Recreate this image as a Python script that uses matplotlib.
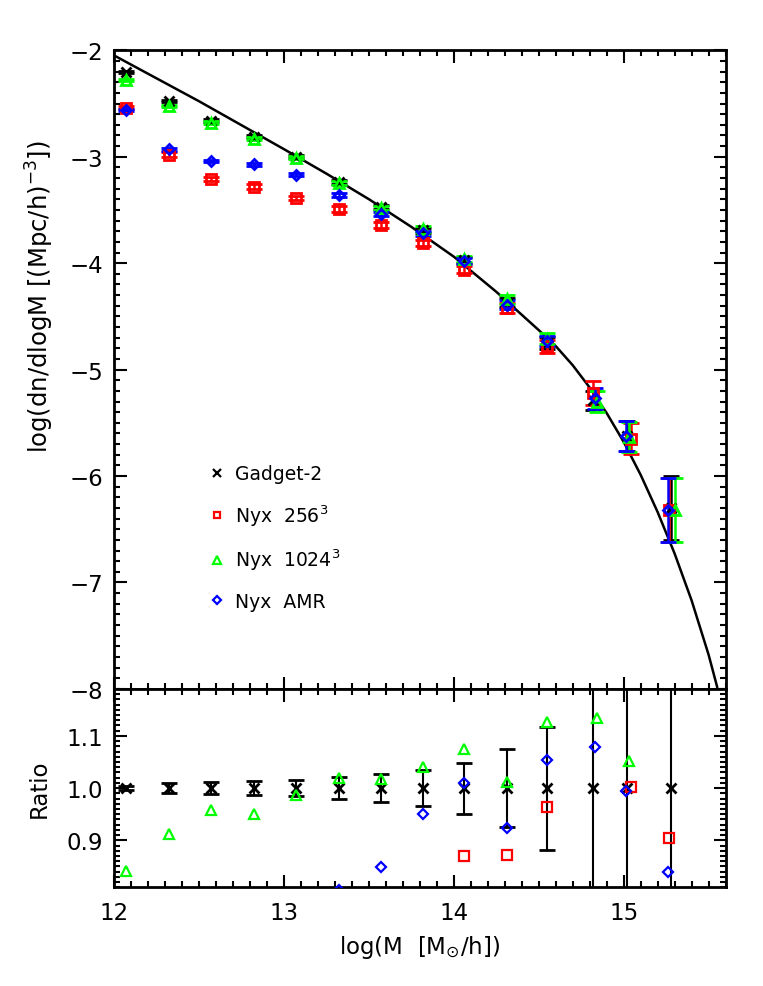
import numpy as np
import matplotlib
matplotlib.use('Agg')
import matplotlib.pyplot as plt
from matplotlib.ticker import MultipleLocator, FormatStrFormatter

plt.rcParams['font.family'] = ['DejaVu Sans']
plt.rcParams['mathtext.default'] = 'regular'

nan = np.nan

# mass bins (log M) per run
gadget_x = [12.07, 12.32, 12.57, 12.82, 13.07, 13.32, 13.57, 13.82, 14.06, 14.31, 14.55, 14.82, 15.02, 15.28]
nyx256_x = [12.07, 12.32, 12.57, 12.82, 13.07, 13.32, 13.57, 13.82, 14.06, 14.31, 14.55, 14.82, 15.04, 15.265]
nyx1024_x = [12.07, 12.32, 12.57, 12.82, 13.07, 13.32, 13.57, 13.82, 14.06, 14.31, 14.55, 14.84, 15.03, 15.30]
amr_x = [12.07, 12.32, 12.57, 12.82, 13.07, 13.32, 13.57, 13.82, 14.06, 14.31, 14.55, 14.83, 15.015, 15.26]

# log(dn/dlogM)
gadget_logn = [-2.20, -2.48, -2.66, -2.81, -3.00, -3.24, -3.47, -3.69, -3.97, -4.37, -4.75, -5.29, -5.62, -6.30]
nyx256_logn = [-2.54, -2.98, -3.21, -3.28, -3.39, -3.49, -3.64, -3.81, -4.06, -4.42, -4.78, -5.22, -5.65, -6.32]
nyx1024_logn = [-2.28, -2.52, -2.68, -2.83, -3.01, -3.25, -3.48, -3.68, -3.96, -4.34, -4.71, -5.30, -5.63, -6.32]
amr_logn = [-2.56, -2.93, -3.04, -3.07, -3.17, -3.36, -3.54, -3.72, -3.98, -4.39, -4.73, -5.27, -5.62, -6.32]

gadget_err = [0.01, 0.01, 0.012, 0.013, 0.015, 0.018, 0.02, 0.025, 0.03, 0.04, 0.06, 0.09, 0.14, 0.30]
nyx256_err = [0.015, 0.02, 0.02, 0.02, 0.02, 0.025, 0.025, 0.03, 0.035, 0.045, 0.06, 0.11, 0.145, 0.30]
nyx1024_err = [0.01, 0.01, 0.012, 0.013, 0.015, 0.018, 0.02, 0.025, 0.03, 0.04, 0.05, 0.10, 0.14, 0.30]
amr_err = [0.01, 0.012, 0.012, 0.015, 0.015, 0.02, 0.02, 0.025, 0.03, 0.04, 0.05, 0.10, 0.14, 0.30]

# ratio to Gadget-2
gadget_ratio = [1.0, 1.0, 1.0, 1.0, 1.0, 1.0, 1.0, 1.0, 1.0, 1.0, 1.0, 1.0, 1.0, 1.0]
gadget_ratio_err = [0.004, 0.009, 0.011, 0.013, 0.016, 0.021, 0.027, 0.035, 0.049, 0.074, 0.118, 0.35, 0.6, 1.0]
nyx256_ratio = [nan, nan, nan, nan, nan, nan, nan, nan, 0.870, 0.872, 0.963, nan, 1.003, 0.904]
nyx1024_ratio = [0.841, 0.913, 0.958, 0.951, 0.987, 1.019, 1.017, 1.040, 1.074, 1.011, 1.126, 1.135, 1.051, nan]
amr_ratio = [nan, nan, nan, nan, nan, 0.805, 0.849, 0.950, 1.010, 0.924, 1.054, 1.079, 0.994, 0.839]

# analytic mass function
curve_logm = [12.0, 12.5, 13.0, 13.25, 13.5, 13.75, 14.0, 14.25, 14.5, 14.6, 14.7, 14.8, 14.9,
              15.0, 15.1, 15.2, 15.3, 15.4, 15.5, 15.55]
curve_logn = [-2.05, -2.48, -2.93, -3.16, -3.40, -3.66, -3.94, -4.27, -4.63, -4.78, -4.96, -5.17, -5.41,
              -5.68, -5.99, -6.34, -6.73, -7.17, -7.68, -7.98]

labels = ['Gadget-2', 'Nyx  256$^3$', 'Nyx  1024$^3$', 'Nyx  AMR']
colors = ['black', '#ff0000', '#00ff00', '#0000ff']
markers = ['x', 's', '^', 'D']
msizes = [7, 6.5, 7, 5]

fig = plt.figure(figsize=(7.63, 9.87), dpi=100)
ax1 = fig.add_axes([0.150, 0.301, 0.801, 0.647])
ax2 = fig.add_axes([0.150, 0.100, 0.801, 0.201])

ax1.plot(curve_logm, curve_logn, color='black', lw=1.8, zorder=1)

xs = [gadget_x, nyx256_x, nyx1024_x, amr_x]
ys = [gadget_logn, nyx256_logn, nyx1024_logn, amr_logn]
es = [gadget_err, nyx256_err, nyx1024_err, amr_err]
for x, y, e, c, m, ms in zip(xs, ys, es, colors, markers, msizes):
    ax1.errorbar(x, y, yerr=e, fmt=m, color=c, mfc='none', mec=c, ms=ms, mew=2,
                 ecolor=c, elinewidth=1.8, capsize=5.5, capthick=1.8, zorder=3)

ax2.errorbar(gadget_x, gadget_ratio, yerr=gadget_ratio_err, fmt='x', color='black', ms=6.5, mew=2,
             elinewidth=1.5, capsize=5.5, capthick=1.5, zorder=2)
for x, r, c, m, ms in zip(xs[1:], [nyx256_ratio, nyx1024_ratio, amr_ratio], colors[1:], markers[1:], msizes[1:]):
    ax2.plot(x, r, m, color=c, mfc='none', mec=c, ms=ms, mew=1.6, zorder=3)

# legend with marker-only handles
handles = [ax1.plot([], [], m, color=c, mfc='none', mec=c, ms=ms * 0.75, mew=1.6)[0]
           for c, m, ms in zip(colors, markers, msizes)]
ax1.legend(handles, labels, loc='upper left', bbox_to_anchor=(0.153, 0.352), frameon=False,
           fontsize=13.5, handlelength=1.0, handletextpad=0.45, labelspacing=1.02,
           borderpad=0, borderaxespad=0, numpoints=1)

ax1.set_xlim(12, 15.6)
ax2.set_xlim(12, 15.6)
ax1.set_ylim(-8, -2)
ax2.set_ylim(0.81, 1.19)

for ax in (ax1, ax2):
    ax.xaxis.set_major_locator(MultipleLocator(1))
    ax.xaxis.set_minor_locator(MultipleLocator(0.1))
    ax.tick_params(which='both', direction='in', top=True, right=True, width=1.5, labelsize=16.5)
    ax.tick_params(which='major', length=9)
    ax.tick_params(which='minor', length=4.5)
    for s in ax.spines.values():
        s.set_linewidth(2)

ax1.yaxis.set_major_locator(MultipleLocator(1))
ax1.yaxis.set_minor_locator(MultipleLocator(0.1))
ax1.tick_params(labelbottom=False)
ax2.yaxis.set_major_locator(MultipleLocator(0.1))
ax2.yaxis.set_minor_locator(MultipleLocator(0.01))
ax2.yaxis.set_major_formatter(FormatStrFormatter('%.1f'))
ax2.tick_params(axis='x', pad=10)
ax1.tick_params(axis='y', pad=8)
ax2.tick_params(axis='y', pad=8)

ax2.set_xlabel(r'log(M  [M$_{\odot}$/h])', fontsize=16.5, labelpad=6)
fig.text(0.052, 0.699, r'log(dn/dlogM [(Mpc/h)$^{-3}$])', rotation=90, fontsize=17.5,
         ha='center', va='center')
fig.text(0.052, 0.201, 'Ratio', rotation=90, fontsize=16.5, ha='center', va='center')

fig.savefig('out.png', dpi=100)
